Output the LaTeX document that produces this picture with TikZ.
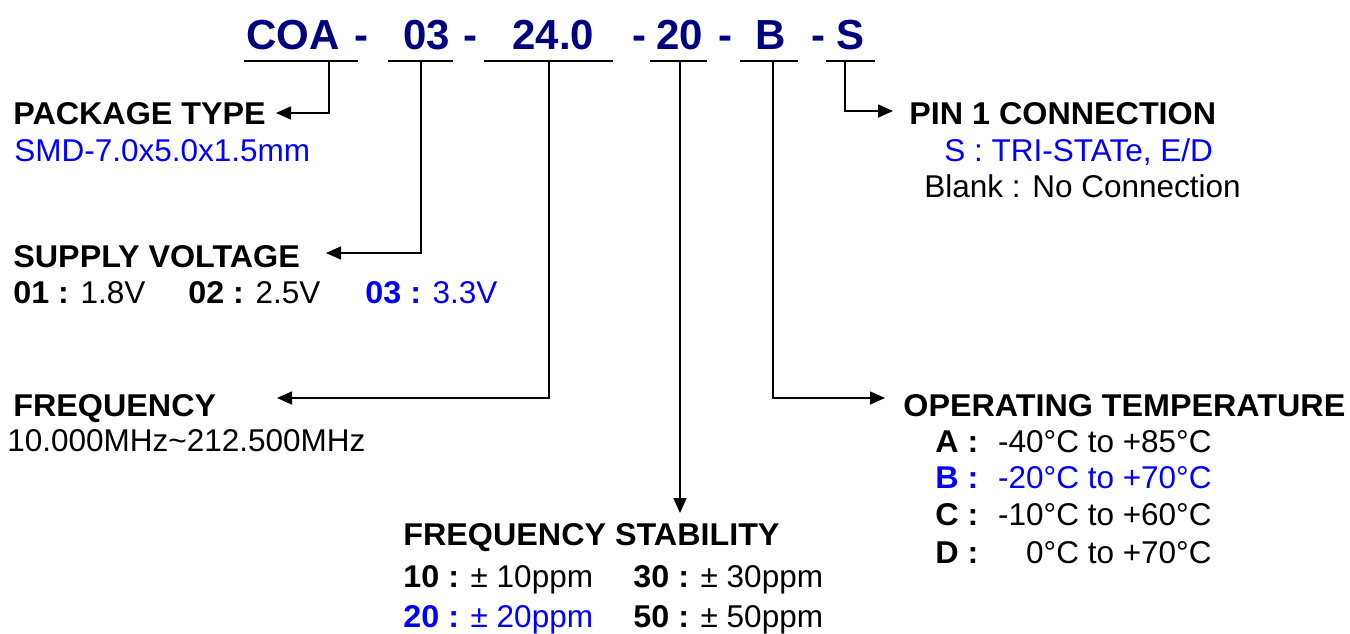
\documentclass[tikz,border=0pt]{standalone}
\usepackage{fontspec}
\setmainfont{Liberation Sans}[BoldFeatures={FakeStretch=1.025}]
\newfontfamily\codefont{Liberation Sans}
\usetikzlibrary{arrows.meta}
\definecolor{navy}{RGB}{0,0,128}
\definecolor{optblue}{RGB}{0,0,255}
\tikzstyle{code} = [anchor=base west, inner sep=0pt, text=navy, font=\codefont\bfseries\fontsize{21}{25}\selectfont]
\tikzstyle{head} = [anchor=base west, inner sep=0pt, font=\bfseries\fontsize{15.75}{19}\selectfont]
\tikzstyle{item} = [anchor=base west, inner sep=0pt, font=\fontsize{15.75}{19}\selectfont]
\tikzstyle{temprange} = [item, anchor=base east]
\tikzstyle{link} = [-{Triangle[length=7.5pt,width=6.5pt]}, line width=0.8pt]

\begin{document}
\begin{tikzpicture}[x=0.5pt, y=-0.5pt]
    \useasboundingbox (0,0) rectangle (1350,633);

    % part number
    \node[code] (cCOA) at (246,49) {COA};
    \node[code] (cd1)  at (354,49) {-};
    \node[code] (c03)  at (403,49) {03};
    \node[code] (cd2)  at (463,49) {-};
    \node[code] (c240) at (512,49) {24.0};
    \node[code] (cd3)  at (632,49) {-};
    \node[code] (c20)  at (656,49) {20};
    \node[code] (cd4)  at (718,49) {-};
    \node[code] (cB)   at (755,49) {B};
    \node[code] (cd5)  at (811,49) {-};
    \node[code] (cS)   at (836,49) {S};
    \foreach \a/\b in {244/358, 388/453, 484/613, 650/707, 740/798, 826/875}
        \draw[line width=1pt] (\a,61) -- (\b,61);

    % fields
    \node[head] (pkg) at (13,124) {PACKAGE TYPE};
    \node[item, text=optblue] (pkgval) at (14,161) {SMD-7.0x5.0x1.5mm};

    \node[head] (vdd) at (13,267) {SUPPLY VOLTAGE};
    \node[item] (vdd01) at (13,303) {\textbf{01 :} 1.8V};
    \node[item] (vdd02) at (188,303) {\textbf{02 :} 2.5V};
    \node[item, text=optblue] (vdd03) at (365,303) {\textbf{03 :} 3.3V};

    \node[head] (freq) at (13,416) {FREQUENCY};
    \node[item] (freqval) at (7,451) {10.000MHz\textasciitilde 212.500MHz};

    \node[head] (stab) at (403,545) {FREQUENCY STABILITY};
    \node[item] (stab10) at (403,587) {\textbf{10 :} ± 10ppm};
    \node[item] (stab30) at (633,587) {\textbf{30 :} ± 30ppm};
    \node[item, text=optblue] (stab20) at (403,627) {\textbf{20 :} ± 20ppm};
    \node[item] (stab50) at (633,627) {\textbf{50 :} ± 50ppm};

    \node[head] (pin) at (909,124) {PIN 1 CONNECTION};
    \node[item, text=optblue] (pinS) at (944,161) {S : TRI-STATe, E/D};
    \node[item] (pinN) at (924,197) {Blank : No Connection};

    \node[head] (temp) at (903,416) {OPERATING TEMPERATURE};
    \node[head] (tA) at (935,452) {A :};
    \node[temprange] (rA) at (1212,452) {-40°C to +85°C};
    \node[head, text=optblue] (tB) at (935,488) {B :};
    \node[temprange, text=optblue] (rB) at (1212,488) {-20°C to +70°C};
    \node[head] (tC) at (935,525) {C :};
    \node[temprange] (rC) at (1212,525) {-10°C to +60°C};
    \node[head] (tD) at (935,563) {D :};
    \node[temprange] (rD) at (1212,563) {0°C to +70°C};

    % drop points and arrow tips
    \coordinate (dCOA) at (329,61);  \coordinate (pkgtip)  at (276,113);
    \coordinate (d03)  at (421,61);  \coordinate (vddtip)  at (326,253);
    \coordinate (d240) at (549,61);  \coordinate (freqtip) at (277,398);
    \coordinate (d20)  at (680,61);  \coordinate (stabtip) at (680,513);
    \coordinate (dB)   at (773,61);  \coordinate (temptip) at (885,398);
    \coordinate (dS)   at (845,61);  \coordinate (pintip)  at (893,111);

    \draw[link] (dCOA) |- (pkgtip);
    \draw[link] (d03) |- (vddtip);
    \draw[link] (d240) |- (freqtip);
    \draw[link] (d20) -- (stabtip);
    \draw[link] (dB) |- (temptip);
    \draw[link] (dS) |- (pintip);
\end{tikzpicture}
\end{document}
